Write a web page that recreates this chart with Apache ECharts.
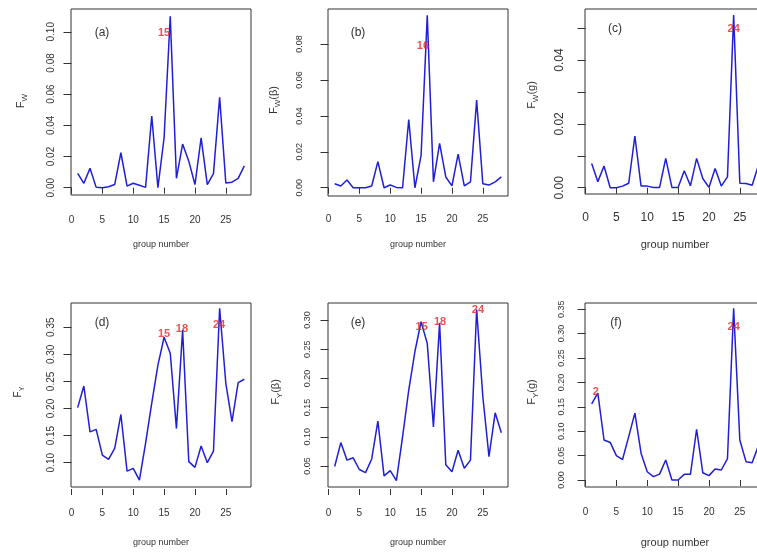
<!DOCTYPE html>
<html><head><meta charset="utf-8">
<script src="https://cdn.jsdelivr.net/npm/echarts@6/dist/echarts.min.js"></script>
<style>html,body{margin:0;padding:0;background:#fff}#c{width:757px;height:552px}</style>
</head><body><div id="c"></div>
<script>
// ---- data ----
const groups = [1,2,3,4,5,6,7,8,9,10,11,12,13,14,15,16,17,18,19,20,21,22,23,24,25,26,27,28];
const xTicks = [0,5,10,15,20,25];

const fwA = [0.0092,0.0028,0.0124,0.0002,0.0,0.0006,0.002,0.0224,0.001,0.0028,0.0015,0.0002,0.046,0.0,0.032,0.110,0.006,0.028,0.017,0.002,0.032,0.002,0.009,0.058,0.003,0.0035,0.006,0.014];
const fwB = [0.0022,0.001,0.0043,0.0,0.0,0.0,0.001,0.0145,0.0,0.0015,0.0002,0.0,0.038,0.0,0.018,0.096,0.0033,0.0247,0.006,0.001,0.0187,0.001,0.0033,0.0488,0.0022,0.0015,0.0033,0.006];
const fwC = [0.0076,0.0019,0.0068,0.0,0.0,0.0005,0.0014,0.0162,0.0005,0.0005,0.0001,0.0001,0.0092,0.0001,0.0001,0.0053,0.0006,0.0092,0.0029,0.0001,0.006,0.0005,0.0034,0.0541,0.0014,0.0013,0.0008,0.007];
const fyD = [0.2016,0.2416,0.157,0.1616,0.114,0.106,0.1265,0.189,0.0846,0.0895,0.068,0.1357,0.21,0.28,0.3315,0.302,0.163,0.345,0.102,0.0914,0.131,0.10,0.1215,0.385,0.2466,0.1757,0.2478,0.254];
const fyE = [0.049,0.090,0.060,0.064,0.044,0.0386,0.062,0.127,0.033,0.042,0.025,0.10,0.18,0.246,0.297,0.26,0.117,0.295,0.052,0.040,0.077,0.046,0.060,0.318,0.169,0.066,0.141,0.107];
const fyF = [0.156,0.178,0.082,0.077,0.050,0.042,0.089,0.137,0.055,0.017,0.007,0.012,0.041,0.0,0.0,0.0116,0.0116,0.104,0.015,0.009,0.0226,0.0205,0.044,0.352,0.082,0.0376,0.0355,0.07];

const yTicksA = [0,0.02,0.04,0.06,0.08,0.10];
const yTicksB = [0,0.02,0.04,0.06,0.08];
const yTicksC = [0,0.01,0.02,0.03,0.04,0.05];
const yLabelsC = [0,0.02,0.04];
const yTicksD = [0.10,0.15,0.20,0.25,0.30,0.35];
const yTicksE = [0.05,0.10,0.15,0.20,0.25,0.30];
const yTicksF = [0,0.05,0.10,0.15,0.20,0.25,0.30,0.35];

const peaksA = [[15,0.099,'15']];
const peaksB = [[15.3,0.079,'16']];
const peaksC = [[24.0,0.0497,'24']];
const peaksD = [[15.0,0.3375,'15'],[17.9,0.346,'18'],[23.9,0.355,'24']];
const peaksE = [[15.1,0.2885,'15'],[18.07,0.297,'18'],[24.2,0.317,'24']];
const peaksF = [[1.66,0.181,'2'],[24.0,0.314,'24']];

const panelLetters = ['(a)','(b)','(c)','(d)','(e)','(f)'];
const yTitleMain = ['W','W','W','Y','Y','Y'];
const yTitleTail = ['','(\u03b2)','(g)','','(\u03b2)','(g)'];
const xTitle = 'group number';

// ---- layout ----
const panels = [
  {vals:fwA, ticks:yTicksA, labels:yTicksA, peaks:peaksA, left:71, top:9, h:186, ymin:-0.0047, ymax:0.1146, xFont:10, yFont:10, yMargin:15, xMargin:18, nameGap:43, nameFont:9, letter:[102,33], ytitle:[21,101], ytFont:11},
  {vals:fwB, ticks:yTicksB, labels:yTicksB, peaks:peaksB, left:328, top:9, h:187, ymin:-0.0046, ymax:0.0995, xFont:10, yFont:9, yMargin:24, xMargin:16, nameGap:42, nameFont:9, letter:[358,33], ytitle:[274,100], ytFont:11},
  {vals:fwC, ticks:yTicksC, labels:yLabelsC, peaks:peaksC, left:585, top:9, h:185, ymin:-0.00197, ymax:0.0560, xFont:12, yFont:12, yMargin:19, xMargin:16, nameGap:43, nameFont:11, letter:[615,29], ytitle:[532,95], ytFont:11},
  {vals:fyD, ticks:yTicksD, labels:yTicksD, peaks:peaksD, left:71, top:303, h:184, ymin:0.0552, ymax:0.3947, xFont:10, yFont:10, yMargin:15, xMargin:19, nameGap:49, nameFont:9, letter:[102,323], ytitle:[18,392], ytFont:10},
  {vals:fyE, ticks:yTicksE, labels:yTicksE, peaks:peaksE, left:328, top:303, h:184, ymin:0.014, ymax:0.3291, xFont:10, yFont:9, yMargin:16, xMargin:19, nameGap:49, nameFont:9, letter:[358,323], ytitle:[276,392], ytFont:11},
  {vals:fyF, ticks:yTicksF, labels:yTicksF, peaks:peaksF, left:585, top:303, h:184, ymin:-0.0143, ymax:0.3627, xFont:10, yFont:9, yMargin:19, xMargin:18, nameGap:48, nameFont:11, letter:[616,323], ytitle:[532,392], ytFont:11}
];

const FONT = 'Liberation Sans, Arial, sans-serif';
const AX = '#333';
const grids = [], xAxes = [], yAxes = [], series = [], graphics = [];

panels.forEach((p, i) => {
  grids.push({left:p.left, top:p.top, width:180, height:p.h, show:true, borderColor:AX, borderWidth:1, backgroundColor:'transparent', containLabel:false, outerBoundsMode:'none'});
  xAxes.push({
    type:'value', gridIndex:i, min:-0.08, max:29.08, offset:2,
    axisLine:{show:false},
    axisTick:{show:true, length:6, customValues:xTicks, lineStyle:{color:AX}},
    axisLabel:{customValues:xTicks, fontSize:p.xFont, color:AX, margin:p.xMargin, fontFamily:FONT},
    splitLine:{show:false},
    name:xTitle, nameLocation:'middle', nameGap:p.nameGap,
    nameTextStyle:{fontSize:p.nameFont, color:AX, fontFamily:FONT}
  });
  yAxes.push({
    type:'value', gridIndex:i, min:p.ymin, max:p.ymax,
    axisLine:{show:false},
    axisTick:{show:true, length:8, customValues:p.ticks, lineStyle:{color:AX}},
    axisLabel:{customValues:p.labels, rotate:90, fontSize:p.yFont, color:AX, margin:p.yMargin, fontFamily:FONT,
               formatter:v => Number(v).toFixed(2)},
    splitLine:{show:false}
  });
  series.push({
    type:'line', xAxisIndex:i, yAxisIndex:i,
    data:groups.map((g, j) => [g, p.vals[j]]),
    showSymbol:false, symbol:'none', lineStyle:{color:'#1f1fd6', width:1.5}, silent:true, z:2
  });
  series.push({
    type:'scatter', xAxisIndex:i, yAxisIndex:i,
    data:p.peaks.map(k => ({value:[k[0], k[1]], name:k[2]})),
    symbolSize:0.1, itemStyle:{color:'transparent'}, silent:true, z:3,
    label:{show:true, position:'inside', formatter:'{b}', color:'#e8262a', fontSize:11, fontWeight:'bold', fontFamily:FONT}
  });
  graphics.push({
    type:'text', x:p.letter[0], y:p.letter[1], z:10,
    style:{text:panelLetters[i], fill:AX, font:'12px ' + FONT, align:'center', verticalAlign:'middle'}
  });
  graphics.push({
    type:'text', x:p.ytitle[0], y:p.ytitle[1], rotation:Math.PI/2, z:10,
    style:{
      text:'{f|F}{s|' + yTitleMain[i] + '}' + (yTitleTail[i] ? '{f|' + yTitleTail[i] + '}' : ''),
      align:'center', verticalAlign:'middle', fill:AX,
      rich:{
        f:{fontSize:p.ytFont, fontFamily:FONT, lineHeight:16, verticalAlign:'middle', fill:AX},
        s:{fontSize:Math.round(p.ytFont*0.7), fontFamily:FONT, lineHeight:8, verticalAlign:'bottom', fill:AX}
      }
    }
  });
});

const chart = echarts.init(document.getElementById('c'), null, {renderer:'canvas'});
chart.setOption({
  animation:false,
  backgroundColor:'#fff',
  textStyle:{fontFamily:FONT},
  grid:grids, xAxis:xAxes, yAxis:yAxes, series:series, graphic:graphics
});
</script>
</body></html>
